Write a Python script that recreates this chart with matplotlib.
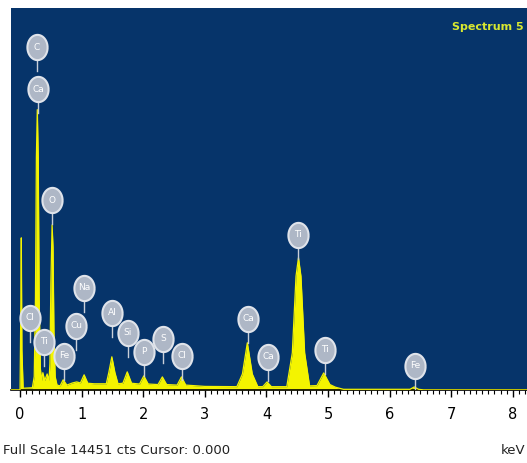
import numpy as np
import matplotlib
matplotlib.use("Agg")
import matplotlib.pyplot as plt
from matplotlib.path import Path

# spectrum: energy (keV) and counts
energy = [-0.15, 0.0, 0.01, 0.02, 0.03, 0.05, 0.20, 0.23, 0.25, 0.265, 0.28, 0.295, 0.31, 0.33,
          0.35, 0.37, 0.40, 0.44, 0.47, 0.485, 0.50, 0.52, 0.535, 0.55, 0.57, 0.60, 0.65, 0.70,
          0.76, 0.85, 0.92, 0.98, 1.04, 1.10, 1.20, 1.40, 1.44, 1.49, 1.54, 1.59, 1.67, 1.74, 1.81,
          1.94, 2.01, 2.08, 2.24, 2.31, 2.38, 2.55, 2.62, 2.69, 3.0, 3.52, 3.61, 3.69, 3.77, 3.86,
          3.94, 4.01, 4.08, 4.33, 4.42, 4.48, 4.52, 4.56, 4.62, 4.70, 4.82, 4.93, 5.03, 5.12, 5.25,
          6.33, 6.40, 6.47, 6.55, 8.3]
counts = [0, 0, 2500, 5750, 1500, 60, 80, 500, 3500, 8800, 10600, 8800, 3500, 800,
          350, 650, 350, 600, 350, 1000, 4000, 6240, 5400, 2200, 500, 180, 150, 380,
          180, 260, 300, 260, 570, 250, 230, 230, 650, 1250, 650, 230, 250, 680, 250,
          220, 530, 220, 200, 490, 200, 180, 490, 180, 130, 120, 600, 1780, 600, 120,
          120, 300, 120, 120, 1400, 4300, 5000, 4300, 1400, 150, 160, 640, 200, 100, 20,
          20, 110, 20, 0, 0]

# element labels: symbol, energy, height of balloon centre
lab_names = ["C", "Ca", "O", "Cl", "Ti", "Fe", "Na", "Cu", "Al", "Si", "P", "S", "Cl",
             "Ca", "Ca", "Ti", "Ti", "Fe"]
lab_x = [0.276, 0.292, 0.52, 0.16, 0.39, 0.71, 1.04, 0.91, 1.49, 1.75, 2.01, 2.32, 2.63,
         3.70, 4.03, 4.51, 4.95, 6.41]
lab_y = [12965, 11378, 7182, 2722, 1814, 1285, 3856, 2419, 2911, 2155, 1436, 1928, 1285,
         2684, 1247, 5859, 1512, 907]

full_scale = 14451
ticks = list(range(0, 9))

navy = "#06346a"
yellow = "#f4f400"

fig = plt.figure(figsize=(5.27, 4.63), dpi=100)
ax = fig.add_axes([0.021, 0.158, 0.979, 0.825])
ax.set_facecolor(navy)

ax.fill_between(energy, counts, 0, color=yellow, lw=0, zorder=2)
ax.plot(energy, counts, color=yellow, lw=0.9, zorder=3)

# balloon marker, a bit taller than wide
t = np.linspace(0, 2 * np.pi, 60)
balloon = Path(np.column_stack([0.8 * np.cos(t), np.sin(t)]))

for name, x, y in zip(lab_names, lab_x, lab_y):
    ax.plot([x, x], [y - 900, y], color="#c9cfd9", lw=1.0, zorder=4)
    ax.scatter([x], [y], marker=balloon, s=330, color="#aeb7c6",
               edgecolors="#dfe3ea", linewidths=1.5, zorder=5)
    ax.text(x, y, name, color="white", fontsize=6.5, ha="center", va="center", zorder=6)

ax.set_xlim(-0.146, 8.23)
ax.set_ylim(0, full_scale)
ax.set_yticks([])
ax.set_xticks(ticks)
ax.set_xticks(np.arange(0, 8.21, 0.1), minor=True)
ax.tick_params(axis="x", which="major", length=5, width=1, direction="out",
               labelsize=10.5, pad=7, colors="black")
ax.tick_params(axis="x", which="minor", length=3, width=0.8, direction="out")
for side in ["top", "left", "right"]:
    ax.spines[side].set_visible(False)
ax.spines["bottom"].set_linewidth(1.2)

fig.text(0.993, 0.942, "Spectrum 5", color="#d8e830", fontsize=8, fontweight="bold",
         ha="right", va="center")
fig.text(0.006, 0.028, "Full Scale 14451 cts Cursor: 0.000", fontsize=9.5, ha="left", va="center",
         color="#222222")
fig.text(0.996, 0.028, "keV", fontsize=9.5, ha="right", va="center", color="#222222")

fig.savefig("out.png", dpi=100)
